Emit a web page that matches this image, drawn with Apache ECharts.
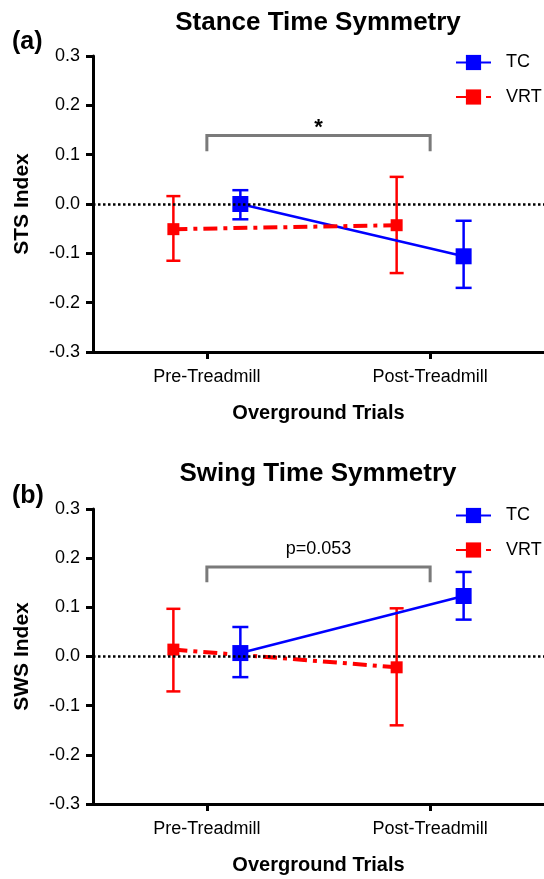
<!DOCTYPE html>
<html>
<head>
<meta charset="utf-8">
<script src="https://cdn.jsdelivr.net/npm/echarts@6/dist/echarts.min.js"></script>
<style>
    html, body { margin: 0; padding: 0; background: #fff; }
    #chart-box { width: 544px; height: 879px; }
</style>
</head>
<body>
<div id="chart-box"></div>
<script>
    // categories on the x axis
    const categories = ['Pre-Treadmill', 'Post-Treadmill'];

    // (a) stance time symmetry
    const stsTcMean = [0.000, -0.106];
    const stsTcLow = [-0.031, -0.170];
    const stsTcHigh = [0.028, -0.034];
    const stsVrtMean = [-0.051, -0.043];
    const stsVrtLow = [-0.115, -0.140];
    const stsVrtHigh = [0.016, 0.055];
    const stsBracket = [0.107, 0.139];
    const stsSig = '*';

    // (b) swing time symmetry
    const swsTcMean = [0.007, 0.123];
    const swsTcLow = [-0.042, 0.075];
    const swsTcHigh = [0.060, 0.172];
    const swsVrtMean = [0.014, -0.022];
    const swsVrtLow = [-0.071, -0.140];
    const swsVrtHigh = [0.097, 0.098];
    const swsBracket = [0.151, 0.182];
    const swsSig = 'p=0.053';

    const FONT = '"Liberation Sans", Arial, Helvetica, sans-serif';
    const BLUE = '#0000ff';
    const RED = '#ff0000';
    const DODGE = 0.15;

    function points(mean, shift) {
        return mean.map((v, i) => [i + 1 + shift, v]);
    }
    function bars(low, high, shift) {
        return low.map((v, i) => [i + 1 + shift, v, high[i]]);
    }

    function errorBar(color, capW) {
        return function (params, api) {
            const x = api.value(0);
            const lo = api.coord([x, api.value(1)]);
            const hi = api.coord([x, api.value(2)]);
            const style = { stroke: color, lineWidth: 2.5 };
            return {
                type: 'group',
                children: [
                    { type: 'line', shape: { x1: hi[0], y1: hi[1], x2: lo[0], y2: lo[1] }, style: style },
                    { type: 'line', shape: { x1: hi[0] - capW / 2, y1: hi[1], x2: hi[0] + capW / 2, y2: hi[1] }, style: style },
                    { type: 'line', shape: { x1: lo[0] - capW / 2, y1: lo[1], x2: lo[0] + capW / 2, y2: lo[1] }, style: style }
                ]
            };
        };
    }

    function bracket(text, textStyle, lift) {
        return function (params, api) {
            const a = api.coord([api.value(0), api.value(2)]);
            const b = api.coord([api.value(0), api.value(3)]);
            const c = api.coord([api.value(1), api.value(3)]);
            const d = api.coord([api.value(1), api.value(2)]);
            return {
                type: 'group',
                children: [
                    { type: 'polyline', shape: { points: [a, b, c, d] },
                      style: { stroke: '#7a7a7a', lineWidth: 3, fill: null } },
                    { type: 'text', x: (b[0] + c[0]) / 2, y: b[1] - lift,
                      style: Object.assign({ text: text, fontFamily: FONT, fill: '#000',
                          align: 'center', verticalAlign: 'middle' }, textStyle) }
                ]
            };
        };
    }

    function xAxisFor(gridIndex) {
        return {
            gridIndex: gridIndex,
            type: 'value',
            min: 0.49,
            max: 2.51,
            name: 'Overground Trials',
            nameLocation: 'middle',
            nameGap: 51,
            nameTextStyle: { fontFamily: FONT, fontSize: 20, fontWeight: 'bold', color: '#000' },
            axisLine: { onZero: false, lineStyle: { color: '#000', width: 3 } },
            axisTick: { customValues: [1, 2], length: 7, lineStyle: { color: '#000', width: 3 } },
            axisLabel: {
                customValues: [1, 2],
                formatter: v => categories[Math.round(v) - 1] || '',
                fontFamily: FONT, fontSize: 18, color: '#000', margin: 16
            },
            splitLine: { show: false }
        };
    }

    function yAxisFor(gridIndex, name) {
        return {
            gridIndex: gridIndex,
            type: 'value',
            min: -0.3,
            max: 0.3,
            interval: 0.1,
            name: name,
            nameLocation: 'middle',
            nameRotate: 90,
            nameGap: 60,
            nameTextStyle: { fontFamily: FONT, fontSize: 21, fontWeight: 'bold', color: '#000' },
            axisLine: { show: true, onZero: false, lineStyle: { color: '#000', width: 3 } },
            axisTick: { show: true, length: 7, lineStyle: { color: '#000', width: 3 } },
            axisLabel: {
                formatter: v => (Math.abs(v) < 1e-9 ? 0 : v).toFixed(1),
                fontFamily: FONT, fontSize: 18, color: '#000', margin: 13
            },
            splitLine: { show: false }
        };
    }

    function panelSeries(idx, tcMean, tcLow, tcHigh, vrtMean, vrtLow, vrtHigh, br, sig, sigStyle, lift) {
        return [
            {
                type: 'custom',
                xAxisIndex: idx, yAxisIndex: idx,
                renderItem: bracket(sig, sigStyle, lift),
                data: [[1, 2, br[0], br[1]]],
                z: 1,
                silent: true,
                markLine: {
                    silent: true,
                    symbol: 'none',
                    label: { show: false },
                    lineStyle: { color: '#000', type: [2.5, 2.5], width: 2.5 },
                    data: [{ yAxis: 0 }]
                }
            },
            {
                type: 'custom',
                xAxisIndex: idx, yAxisIndex: idx,
                renderItem: errorBar(RED, 14),
                data: bars(vrtLow, vrtHigh, -DODGE),
                z: 2
            },
            {
                type: 'custom',
                xAxisIndex: idx, yAxisIndex: idx,
                renderItem: errorBar(BLUE, 16),
                data: bars(tcLow, tcHigh, DODGE),
                z: 2
            },
            {
                name: 'TC',
                type: 'line',
                xAxisIndex: idx, yAxisIndex: idx,
                data: points(tcMean, DODGE),
                symbol: 'rect',
                symbolSize: 16,
                itemStyle: { color: BLUE },
                lineStyle: { color: BLUE, width: 2.5 },
                z: 3
            },
            {
                name: 'VRT',
                type: 'line',
                xAxisIndex: idx, yAxisIndex: idx,
                data: points(vrtMean, -DODGE),
                symbol: 'rect',
                symbolSize: 12,
                itemStyle: { color: RED },
                lineStyle: { color: RED, width: 4, type: [14, 6, 4, 6] },
                z: 3
            }
        ];
    }

    function legendFor(top) {
        return {
            data: ['TC', 'VRT'],
            orient: 'vertical',
            left: 455,
            top: top,
            padding: 0,
            itemWidth: 35,
            itemHeight: 19,
            itemGap: 16.5,
            textStyle: { fontFamily: FONT, fontSize: 18, color: '#000', padding: [0, 0, 0, 10] }
        };
    }

    function textEl(text, x, y, size, align) {
        return {
            type: 'text',
            x: x, y: y,
            style: { text: text, fontFamily: FONT, fontSize: size, fontWeight: 'bold',
                     fill: '#000', align: align, verticalAlign: 'middle' }
        };
    }

    const myChart = echarts.init(document.getElementById('chart-box'));

    const option = {
        animation: false,
        backgroundColor: '#fff',
        graphic: [
            textEl('Stance Time Symmetry', 318, 23, 26, 'center'),
            textEl('(a)', 12, 42, 25, 'left'),
            textEl('Swing Time Symmetry', 318, 474, 26, 'center'),
            textEl('(b)', 12, 496, 25, 'left')
        ],
        legend: [legendFor(53.5), legendFor(506.5)],
        grid: [
            { left: 93, top: 56, width: 451, height: 296 },
            { left: 93, top: 509, width: 451, height: 295 }
        ],
        xAxis: [xAxisFor(0), xAxisFor(1)],
        yAxis: [yAxisFor(0, 'STS Index'), yAxisFor(1, 'SWS Index')],
        series: [].concat(
            panelSeries(0, stsTcMean, stsTcLow, stsTcHigh, stsVrtMean, stsVrtLow, stsVrtHigh,
                stsBracket, stsSig, { fontSize: 22, fontWeight: 'bold' }, 7),
            panelSeries(1, swsTcMean, swsTcLow, swsTcHigh, swsVrtMean, swsVrtLow, swsVrtHigh,
                swsBracket, swsSig, { fontSize: 18 }, 18)
        )
    };

    myChart.setOption(option, true);
</script>
</body>
</html>
